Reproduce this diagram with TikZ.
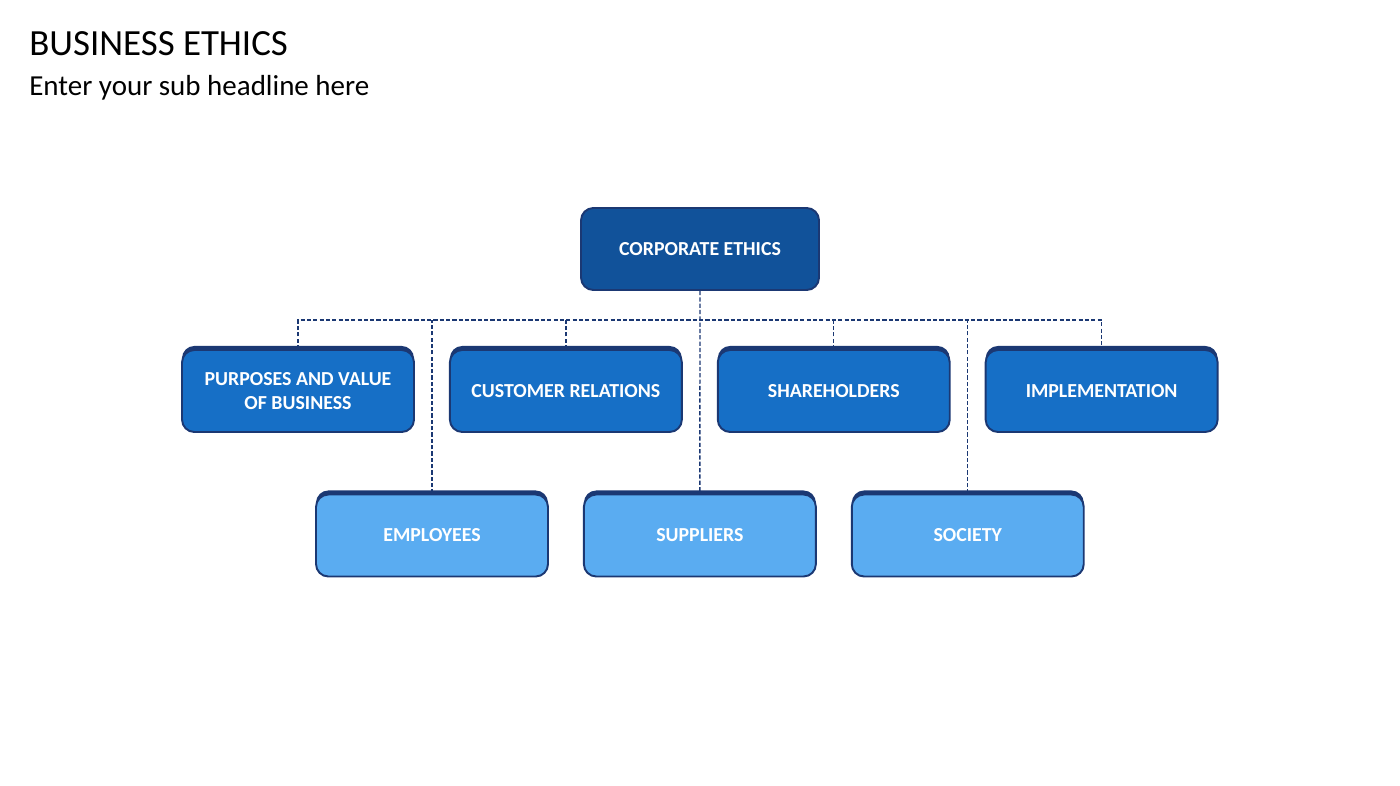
\documentclass[tikz,border=0pt]{standalone}
\usepackage{fontspec}
\setmainfont{Carlito}
\usetikzlibrary{positioning,shadows}

\definecolor{navy}{HTML}{1B3873}
\definecolor{topblue}{HTML}{11529A}
\definecolor{midblue}{HTML}{166FC6}
\definecolor{lightblue}{HTML}{5AACF1}

\begin{document}
\begin{tikzpicture}[
      x=0.02cm, y=-0.02cm,
      node distance=0.68cm,
      every node/.style={
        align=center
      },
      plainbox/.style={
        draw=navy, line width=1.1pt, rounded corners=7pt,
        minimum width=4.64cm, minimum height=1.64cm,
        text=white, font=\fontsize{11.3}{13.5}\selectfont\bfseries
      },
      box/.style={
        plainbox,
        general shadow={fill=navy, shadow yshift=2.3pt}
      },
      link/.style={navy, line width=0.8pt, dash pattern=on 2.4pt off 1.2pt}
    ]
    \useasboundingbox (0,0) rectangle (1400,785);

    % Titles
    \node (title) [anchor=base west, inner sep=0pt, font=\fontsize{21}{25}\selectfont] at (29,55) {BUSINESS ETHICS};
    \node (sub) [anchor=base west, inner sep=0pt, font=\fontsize{16.5}{20}\selectfont] at (29,95) {Enter your sub headline here};

    % Top
    \node (n1) [plainbox, fill=topblue, minimum width=4.76cm] at (700,249) {CORPORATE ETHICS};

    % Row 1
    \node (n2) [box, fill=midblue] at (298,391) {PURPOSES AND VALUE\\OF BUSINESS};
    \node (n3) [box, fill=midblue, right=of n2] {CUSTOMER RELATIONS};
    \node (n4) [box, fill=midblue, right=of n3] {SHAREHOLDERS};
    \node (n5) [box, fill=midblue, right=of n4] {IMPLEMENTATION};

    % Row 2
    \node (n6) [box, fill=lightblue] at (432,535.5) {EMPLOYEES};
    \node (n7) [box, fill=lightblue, right=of n6] {SUPPLIERS};
    \node (n8) [box, fill=lightblue, right=of n7] {SOCIETY};

    % Dashed connectors
    \coordinate (bus) at (700,320);
    \draw[link] (n1.south) -- (n7.north);
    \draw[link] (n2.north) |- (bus) -| (n5.north);
    \draw[link] (n3.north) -- (n3.north |- bus);
    \draw[link] (n4.north) -- (n4.north |- bus);
    \draw[link] (n6.north) -- (n6.north |- bus);
    \draw[link] (n8.north) -- (n8.north |- bus);
  \end{tikzpicture}
\end{document}
